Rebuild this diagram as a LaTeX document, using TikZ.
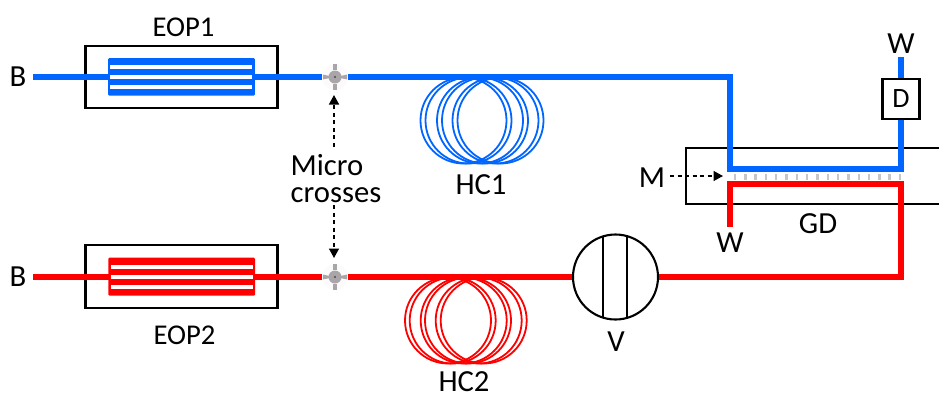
\documentclass[tikz,border=0pt]{standalone}
\usepackage{fontspec}
\setmainfont{Carlito}
\usetikzlibrary{arrows.meta}
\def\px{0.75pt}
\definecolor{cblue}{HTML}{0066FF}
\definecolor{cred}{HTML}{FF0000}
\definecolor{cgray}{HTML}{A9A5A9}
\tikzset{
  lab/.style={font=\fontsize{23}{20.25}\selectfont,inner sep=0pt,align=center,text=black},
  labs/.style={font=\fontsize{21.5}{20}\selectfont,inner sep=0pt,align=center,text=black},
  pipe/.style={line width=6.8*\px,line join=miter},
  coil/.style={line width=1.8*\px},
  frame/.style={draw=black,line width=2.1*\px,fill=none,inner sep=0pt},
  dashdash/.style={draw=black,line width=1.4*\px,dash pattern=on 4*\px off 3.5*\px,-{Triangle[length=9.5*\px,width=10*\px]}},
  crossn/.style={circle,minimum size=26*\px,inner sep=0pt,fill=white!97!gray},
}
\begin{document}
\begin{tikzpicture}[x=\px,y=-\px]
\useasboundingbox (0,0) rectangle (939,394);
% frames
\node[frame,minimum width=192*\px,minimum height=62*\px] (eopa) at (181.5,76.7) {};
\node[frame,minimum width=192*\px,minimum height=63*\px] (eopb) at (181.5,276.7) {};
\draw[black,line width=2.1*\px] (939,148) -- (686,148) -- (686,204) -- (939,204);
% cross nodes
\node[crossn] (crossa) at (335,77) {};
\node[crossn] (crossb) at (335,277) {};
\foreach \c in {a,b}{
  \begin{scope}[shift={(cross\c.center)}]
    \fill[cgray] (-2,-13) rectangle (2,-7);
    \fill[cgray] (-2,13) rectangle (2,7);
    \fill[cgray] (-12,-2.4) -- (-6,-1.2) -- (-6,1.2) -- (-12,2.4) -- cycle;
    \fill[cgray] (12,-2.4) -- (6,-1.2) -- (6,1.2) -- (12,2.4) -- cycle;
    \fill[cgray] (0,0) circle[radius=6.5];
    \fill[black!70] (0,0) circle[radius=1.2];
  \end{scope}
}
% coils
\foreach \x in {463.5,468.5,480,485,495.5,500.5}
  \draw[cblue,coil] (\x,120.5) circle[radius=43];
\foreach \x in {448,452.7,463.7,468,478.7,483.7}
  \draw[cred,coil] (\x,320.5) circle[radius=43];
% named ends
\coordinate (ba) at (33,77);
\coordinate (bb) at (33,277);
\coordinate (tl) at (730,77);
\coordinate (bl) at (730,169);
\coordinate (br) at (901,169);
\coordinate (wt) at (901,57);
\coordinate (rw) at (730,227);
\coordinate (rtl) at (730,184);
\coordinate (rtr) at (901,184);
\coordinate (rbr) at (901,277);
% membrane
\foreach \i in {0,...,16}
  \fill[black!22] (735+\i*10.31-1.2,174) rectangle (735+\i*10.31+1.2,180);
% D and V
\node[frame,fill=white,minimum width=37*\px,minimum height=40*\px,lab] (D) at (901,99) {\fontsize{21}{21}\selectfont D};
\node[circle,draw=black,line width=2.1*\px,minimum size=85*\px,inner sep=0pt,fill=white] (V) at (615.5,277) {};
\draw[black,line width=2.1*\px] (603,235.7) -- (603,318.3) (627,235.7) -- (627,318.3);
% pipes
\draw[cblue,pipe] (ba) -- (crossa.west);
\draw[cblue,pipe] (crossa.east) -- (tl) -- (bl) -- (br) -- (D.south);
\draw[cblue,pipe] (wt) -- (D.north);
\draw[cred,pipe] (bb) -- (crossb.west);
\draw[cred,pipe] (crossb.east) -- (V.west);
\draw[cred,pipe] (V.east) -- (rbr) -- (rtr) -- (rtl) -- (rw);
% heaters
\fill[cblue,rounded corners=0.8] (108.2,58) rectangle (254.8,95.7);
\foreach \y in {66.7,76.8,87.2} \fill[white] (110.3,\y-1.8) rectangle (252.3,\y+1.8);
\fill[cred,rounded corners=0.8] (108.4,257.7) rectangle (255,295.7);
\foreach \y in {266.7,276.8,286.9} \fill[white] (110.6,\y-1.9) rectangle (252.8,\y+1.9);
% labels
\node[lab] (lba) at (18,77) {B};
\node[lab] (lbb) at (18,277) {B};
\node[labs] at (183.5,27) {EOP1};
\node[labs] at (184.5,335) {EOP2};
\node[lab,align=left] (micro) at (336,178.5) {Micro\\crosses};
\node[lab] at (481,185) {HC1};
\node[lab] at (464,382) {HC2};
\node[lab] at (616,342) {V};
\node[lab] (m) at (652,178) {M};
\node[lab] at (901,44) {W};
\node[lab] at (730,243) {W};
\node[lab] at (818,224) {GD};
% dashed arrows
\coordinate (ma) at (670,176);
\coordinate (mb) at (723,176);
\coordinate (ua) at (334,146.5);
\coordinate (ub) at (334,95);
\coordinate (da) at (334,205);
\coordinate (db) at (334,258);
\draw[dashdash] (ma) -- (mb);
\draw[dashdash] (ua) -- (ub);
\draw[dashdash] (da) -- (db);
\end{tikzpicture}
\end{document}
